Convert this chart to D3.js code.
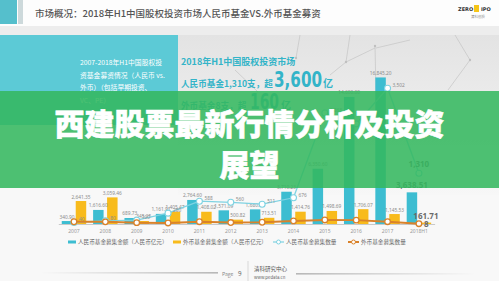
<!DOCTYPE html>
<html>
<head>
<meta charset="utf-8">
<script src="https://cdn.jsdelivr.net/npm/d3@7"></script>
<style>
  html, body { margin: 0; padding: 0; background: #f7f7f7; }
  svg { display: block; font-family: "Noto Sans CJK SC", "Noto Sans", sans-serif; }
</style>
</head>
<body>
<div id="chart"></div>
<script>
// 2007-2018H1 RMB vs foreign-currency fund raising, with a title banner over it.

const years      = ["2007", "2008", "2009", "2010", "2011", "2012", "2013", "2014", "2015", "2016", "2017", "2018H1"];
const rmbAmount  = [340.9, 1616.6, 689.73, 1161.91, 2764.60, 1571.09, 1680.0, 3710.23, 6350.60, 14600.0, 16845.20, 3638.51];
const fxAmount   = [2641.35, 3059.46, 345.25, 1405.47, 1408.02, 500.82, 713.51, 1414.76, 1498.69, 1706.07, 1145.53, 161.71];
const rmbCount   = [40, 80, 100, 280, 588, 560, 511, 676, 2863, 2584, 3502, 1310];
const fxCount    = [58, 56, 35, 27, 60, 37, 45, 80, 104, 100, 60, 8];
const legendText = ["人民币基金募集金额（人民币亿元）", "外币基金募集金额（人民币亿元）", "人民币基金募集数量", "外币基金募集数量"];

const W = 499, H = 281;
const TEAL = "#3dbdd1", YELLOW = "#f8bb1c", LINE_TEAL = "#7fd3e2", LINE_ORANGE = "#d9822b";

const svg = d3.select("#chart").append("svg").attr("width", W).attr("height", H);
const defs = svg.append("defs");

const bgGrad = defs.append("linearGradient").attr("id", "bg").attr("x1", 0).attr("y1", 0).attr("x2", 0).attr("y2", 1);
bgGrad.append("stop").attr("offset", "0%").attr("stop-color", "#e3e3e3");
bgGrad.append("stop").attr("offset", "100%").attr("stop-color", "#f7f7f7");

const fadeL = defs.append("linearGradient").attr("id", "fadeL");
fadeL.append("stop").attr("offset", "0%").attr("stop-color", "#888").attr("stop-opacity", 0);
fadeL.append("stop").attr("offset", "100%").attr("stop-color", "#777").attr("stop-opacity", 1);
const fadeR = defs.append("linearGradient").attr("id", "fadeR");
fadeR.append("stop").attr("offset", "0%").attr("stop-color", "#777").attr("stop-opacity", 1);
fadeR.append("stop").attr("offset", "100%").attr("stop-color", "#888").attr("stop-opacity", 0);

svg.append("rect").attr("width", W).attr("height", H).attr("fill", "#f8f8f8");

// header
svg.append("rect").attr("width", W).attr("height", 26).attr("fill", "#fdfdfd");
svg.append("rect").attr("y", 26).attr("width", W).attr("height", 9).attr("fill", "#ededed");
svg.append("rect").attr("width", 17).attr("height", 24).attr("fill", "#55bfcc");
svg.append("rect").attr("x", 18).attr("width", 5).attr("height", 24).attr("fill", "#cdd9db");
svg.append("text").attr("x", 35).attr("y", 16.5).attr("font-size", 9.5).attr("fill", "#555")
  .attr("font-weight", 500)
  .text("市场概况：2018年H1中国股权投资市场人民币基金VS.外币基金募资");

// logo
const logo = svg.append("g").attr("font-family", "DejaVu Sans, sans-serif");
logo.append("text").attr("x", 458).attr("y", 11).attr("font-size", 5).attr("font-weight", "bold").attr("fill", "#333").text("ZERO");
logo.append("rect").attr("x", 474).attr("y", 5).attr("width", 5).attr("height", 7).attr("fill", "#f5c518");
logo.append("text").attr("x", 481).attr("y", 11).attr("font-size", 5).attr("font-weight", "bold").attr("fill", "#333").text("IPO");
logo.append("text").attr("x", 471).attr("y", 17.5).attr("font-size", 3.5).attr("fill", "#888")
  .attr("font-family", "Noto Sans CJK SC").text("清科创投");

// left teal panel + right grey panel
svg.append("rect").attr("y", 35).attr("width", 178).attr("height", 90).attr("fill", "#5ccad6");
svg.append("rect").attr("x", 178).attr("y", 35).attr("width", W - 178).attr("height", 160).attr("fill", "url(#bg)");

// faint network decoration
const net = svg.append("g").attr("stroke", "#c4c4c4").attr("stroke-width", 0.7).attr("fill", "none");
[[350, 35, 346, 62], [346, 62, 375, 48], [375, 45, 376, 95], [346, 62, 330, 75], [235, 70, 258, 92],
 [455, 35, 470, 60], [470, 60, 448, 90], [376, 48, 410, 40], [300, 35, 296, 58]].forEach(l =>
  net.append("line").attr("x1", l[0]).attr("y1", l[1]).attr("x2", l[2]).attr("y2", l[3]));
[[375, 46], [346, 62], [470, 60], [296, 58]].forEach(p =>
  svg.append("circle").attr("cx", p[0]).attr("cy", p[1]).attr("r", 1.2).attr("fill", "#c0c0c0"));

// panel text
const panelLines = ["2007-2018年H1中国股权投", "资基金募资情况（人民币 vs.", "外币）（包括早期投资、", "VC、PE）"];
svg.append("g").selectAll("text").data(panelLines).join("text")
  .attr("x", 80).attr("y", (d, i) => 65 + i * 12.5)
  .attr("font-size", 6.8).attr("fill", "#fff").text(d => d);

const rt = svg.append("g").attr("fill", "#33b4c8").attr("font-weight", "bold");
rt.append("text").attr("x", 181).attr("y", 64.5).attr("font-size", 9).text("2018年H1中国股权投资市场");
rt.append("text").attr("x", 181).attr("y", 87).attr("font-size", 8.6).text("人民币基金1,310支，超");
rt.append("text").attr("x", 274).attr("y", 87).attr("font-size", 22)
  .attr("textLength", 48).attr("lengthAdjust", "spacingAndGlyphs")
  .attr("font-family", "DejaVu Sans, sans-serif").text("3,600");
rt.append("text").attr("x", 323).attr("y", 87).attr("font-size", 10).text("亿");
rt.append("text").attr("x", 181).attr("y", 108.5).attr("font-size", 8.6).text("外币基金8支，超");
rt.append("text").attr("x", 250).attr("y", 108.5).attr("font-size", 22)
  .attr("textLength", 29).attr("lengthAdjust", "spacingAndGlyphs")
  .attr("font-family", "DejaVu Sans, sans-serif").text("160");
rt.append("text").attr("x", 281).attr("y", 108.5).attr("font-size", 10).text("亿");

// ---- chart ----
const x0 = d3.scaleBand().domain(years).range([58.3, 434.6]).paddingInner(0.22).paddingOuter(0.11);
const x1 = d3.scaleBand().domain(["rmb", "fx"]).range([0, x0.bandwidth()]).paddingInner(0.25);
const y  = d3.scaleLinear().domain([0, 20000]).range([224, 50]);
const y2 = d3.scaleLinear().domain([0, 4000]).range([224, 69]);
const fmt = d3.format(",.2f");
const last = years.length - 1;

const rows = years.map((yr, i) => ({ yr, i, rmb: rmbAmount[i], fx: fxAmount[i] }));
const chart = svg.append("g");

const gx = chart.append("g").attr("transform", "translate(0,224)")
  .call(d3.axisBottom(x0).tickSize(0).tickPadding(5));
gx.select(".domain").attr("stroke", "#bdbdbd").attr("stroke-width", 0.8);
gx.selectAll("text").attr("font-size", 5).attr("fill", "#9a9a9a").attr("font-family", "Noto Sans, sans-serif");

const groups = chart.append("g").selectAll("g").data(rows).join("g")
  .attr("transform", d => `translate(${x0(d.yr)},0)`);
groups.selectAll("rect").data(d => [
  { key: "rmb", v: d.rmb, i: d.i }, { key: "fx", v: d.fx, i: d.i }]).join("rect")
  .attr("x", d => x1(d.key)).attr("width", x1.bandwidth())
  .attr("y", d => y(d.v)).attr("height", d => y(0) - y(d.v))
  .attr("fill", d => d.key === "rmb" ? TEAL : YELLOW);

groups.selectAll("text").data(d => [
  { key: "rmb", v: d.rmb, i: d.i }, { key: "fx", v: d.fx, i: d.i }]).join("text")
  .attr("x", d => x1(d.key) + x1.bandwidth() / 2)
  .attr("y", d => y(d.v) - (d.i === last ? 4 : 2.5))
  .attr("text-anchor", "middle")
  .attr("font-family", "Noto Sans, sans-serif")
  .attr("font-size", d => d.i === last ? 8 : 4.8)
  .attr("font-weight", d => d.i === last ? "bold" : "normal")
  .attr("fill", d => d.i === last ? "#6a6a6a" : "#8c8c8c")
  .text(d => fmt(d.v));

const cx = (d, i) => x0(years[i]) + x0.bandwidth() / 2;

// RMB fund count line
chart.append("path").datum(rmbCount)
  .attr("fill", "none").attr("stroke", LINE_TEAL).attr("stroke-width", 1.3)
  .attr("d", d3.line().x(cx).y(d => y2(d)));
chart.append("g").selectAll("circle").data(rmbCount).join("circle")
  .attr("cx", cx).attr("cy", d => y2(d)).attr("r", 3)
  .attr("fill", "#fff").attr("stroke", LINE_TEAL).attr("stroke-width", 1.1);
chart.append("g").selectAll("text").data(rmbCount).join("text")
  .attr("x", (d, i) => i === last ? cx(d, i) : cx(d, i) + 5)
  .attr("y", (d, i) => i === last ? y2(d) - 6 : y2(d) - 1)
  .attr("text-anchor", (d, i) => i === last ? "middle" : "start")
  .attr("font-family", "Noto Sans, sans-serif")
  .attr("font-size", (d, i) => i === last ? 8 : 4.8)
  .attr("font-weight", (d, i) => i === last ? "bold" : "normal")
  .attr("fill", (d, i) => i === last ? "#6a6a6a" : "#8c8c8c")
  .text(d => d3.format(",")(d));

// foreign fund count line
chart.append("path").datum(fxCount)
  .attr("fill", "none").attr("stroke", LINE_ORANGE).attr("stroke-width", 2)
  .attr("d", d3.line().x(cx).y(d => y2(d)));
chart.append("g").selectAll("circle").data(fxCount).join("circle")
  .attr("cx", cx).attr("cy", d => y2(d)).attr("r", 2.8)
  .attr("fill", "#fff").attr("stroke", LINE_ORANGE).attr("stroke-width", 1.3);
chart.append("text")
  .attr("x", cx(fxCount[last], last) + 5).attr("y", y2(fxCount[last]) + 3)
  .attr("font-family", "Noto Sans, sans-serif").attr("font-size", 8).attr("font-weight", "bold")
  .attr("fill", "#6a6a6a").text(fxCount[last]);

// legend
const legX = [68, 173, 273, 348];
const leg = svg.append("g").selectAll("g").data(legendText).join("g")
  .attr("transform", (d, i) => `translate(${legX[i]},242)`);
leg.each(function (d, i) {
  const g = d3.select(this);
  if (i < 2) {
    g.append("rect").attr("y", -1.5).attr("width", 8).attr("height", 3).attr("fill", i === 0 ? TEAL : YELLOW);
  } else {
    const c = i === 2 ? LINE_TEAL : LINE_ORANGE;
    g.append("line").attr("x2", 11).attr("stroke", c).attr("stroke-width", i === 2 ? 1.2 : 2);
    g.append("circle").attr("cx", 5.5).attr("r", 2).attr("fill", "#fff").attr("stroke", c).attr("stroke-width", 1);
  }
  g.append("text").attr("x", i < 2 ? 10 : 13).attr("y", 2).attr("font-size", 5.6).attr("fill", "#6a6a6a").text(d);
});

// footer
svg.append("rect").attr("x", 40).attr("y", 272.5).attr("width", 178).attr("height", 0.8).attr("fill", "url(#fadeL)");
svg.append("text").attr("x", 222).attr("y", 275.5).attr("font-size", 5).attr("fill", "#888").text("Page");
svg.append("text").attr("x", 238).attr("y", 275.5).attr("font-size", 6.5).attr("fill", "#666").text("9");
svg.append("line").attr("x1", 248).attr("x2", 248).attr("y1", 261).attr("y2", 281).attr("stroke", "#cfcfcf").attr("stroke-width", 0.8);
svg.append("text").attr("x", 254).attr("y", 271).attr("font-size", 5.5).attr("fill", "#555").text("清科研究中心");
svg.append("text").attr("x", 254).attr("y", 278.5).attr("font-size", 4.3).attr("fill", "#666").text("www.pedata.cn");
svg.append("rect").attr("x", 296).attr("y", 273.5).attr("width", 180).attr("height", 0.8).attr("fill", "url(#fadeR)");

// title banner on top
svg.append("rect").attr("y", 91).attr("width", W).attr("height", 97)
  .attr("fill", "rgb(52,184,94)").attr("opacity", 0.87);
const bannerLines = ["西建股票最新行情分析及投资", "展望"];
svg.append("g").selectAll("text").data(bannerLines).join("text")
  .attr("x", W / 2).attr("y", (d, i) => 122 + i * 41)
  .attr("text-anchor", "middle").attr("dominant-baseline", "central")
  .attr("font-size", 30).attr("font-weight", 900).attr("fill", "#fff")
  .attr("stroke", "#fff").attr("stroke-width", 0.6)
  .text(d => d);
</script>
</body>
</html>
